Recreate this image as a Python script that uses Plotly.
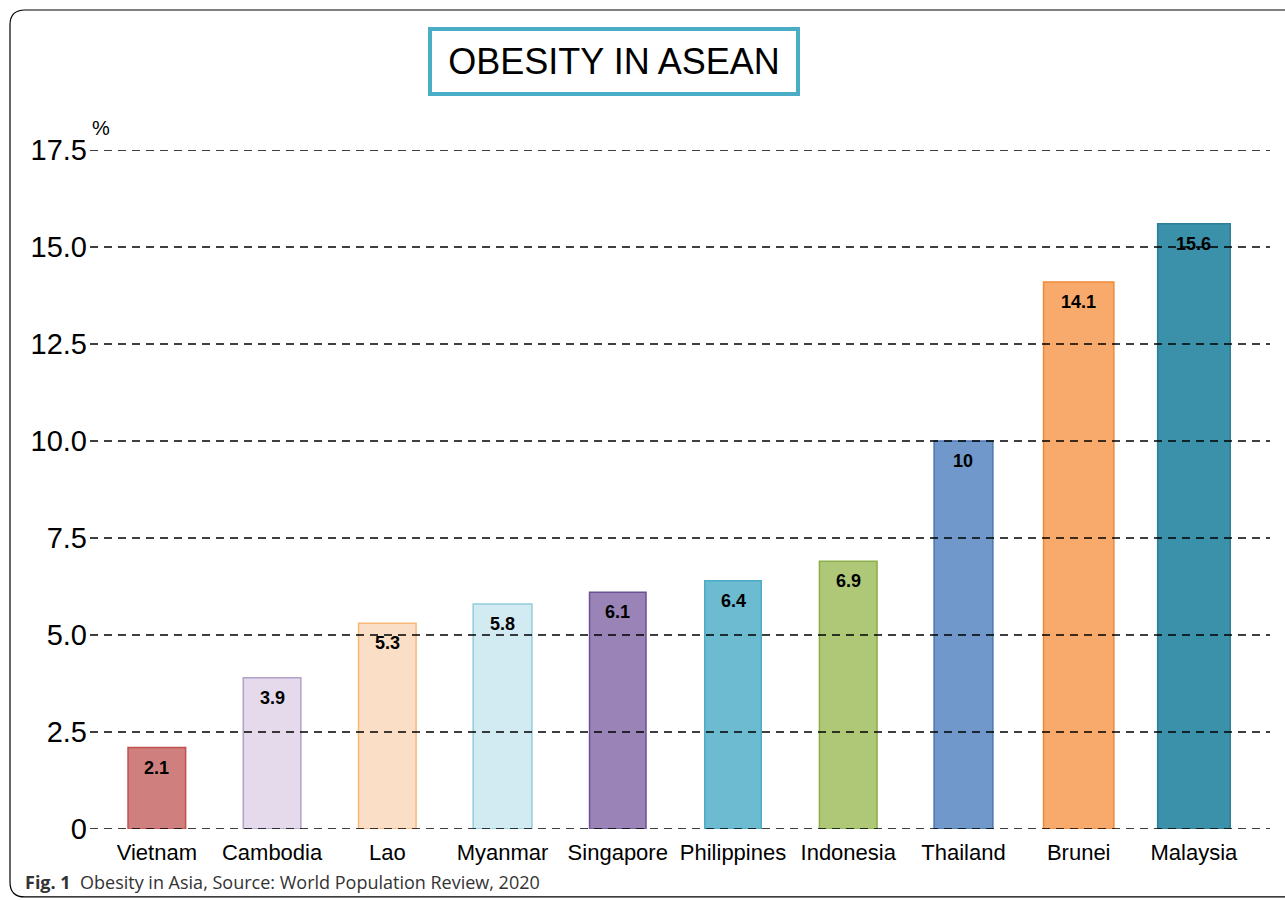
import plotly.graph_objects as go

# ---- data ----
countries = ["Vietnam", "Cambodia", "Lao", "Myanmar", "Singapore",
             "Philippines", "Indonesia", "Thailand", "Brunei", "Malaysia"]
obesity_pct = [2.1, 3.9, 5.3, 5.8, 6.1, 6.4, 6.9, 10, 14.1, 15.6]
value_labels = ["2.1", "3.9", "5.3", "5.8", "6.1", "6.4", "6.9", "10", "14.1", "15.6"]
y_ticks = [0, 2.5, 5.0, 7.5, 10.0, 12.5, 15.0, 17.5]
y_tick_labels = ["0", "2.5", "5.0", "7.5", "10.0", "12.5", "15.0", "17.5"]

# ---- styles ----
fill_colors = ["#CF7F7D", "#E4DAEC", "#FBDEC6", "#D2EAF1", "#9A83B7",
               "#6DBBD0", "#AEC878", "#7098CA", "#F7AA6C", "#3A91A9"]
line_colors = ["#C0504D", "#B3A2C7", "#F9B77A", "#92CDDC", "#6A5290",
               "#4BACC6", "#8AAF4A", "#4A76B0", "#F08A35", "#2E7F95"]
bar_widths = [0.5, 0.5, 0.5, 0.51, 0.49, 0.49, 0.5, 0.51, 0.61, 0.63]

FONT = "Liberation Sans, Arial, sans-serif"

fig = go.Figure()
fig.add_trace(go.Bar(
    x=countries, y=obesity_pct, width=bar_widths,
    marker=dict(color=fill_colors, line=dict(color=line_colors, width=1.5)),
    hoverinfo="x+y",
))

# value labels inside bar tops
for c, v, t in zip(countries, obesity_pct, value_labels):
    fig.add_annotation(x=c, y=v, text=f"<b>{t}</b>", showarrow=False,
                       yanchor="top", yshift=-8,
                       font=dict(family=FONT, size=18, color="black"))

# dashed gridlines drawn above bars
for t in y_ticks:
    fig.add_shape(type="line", xref="paper", x0=0, x1=1, yref="y", y0=t, y1=t,
                  line=dict(color="black", width=1.5, dash="8px,6px"), layer="above")

# title box
fig.add_annotation(xref="paper", yref="paper", x=0.444, y=1.131,
                   text="OBESITY IN ASEAN", showarrow=False,
                   font=dict(family=FONT, size=36, color="black"),
                   bordercolor="#4BACC6", borderwidth=4, borderpad=0,
                   width=364, height=61, xanchor="center", yanchor="middle")

# % unit
fig.add_annotation(xref="paper", yref="paper", x=0.0, y=1.032, xanchor="left",
                   yanchor="middle", text="%", showarrow=False,
                   font=dict(family=FONT, size=20, color="black"))

# caption
fig.add_annotation(xref="paper", yref="paper", x=-0.057, y=-0.078,
                   xanchor="left", yanchor="middle", showarrow=False,
                   text="<b>Fig. 1</b>  Obesity in Asia, Source: World Population Review, 2020",
                   font=dict(family="Open Sans, Noto Sans, sans-serif", size=18, color="#333333"))

# rounded outer frame (left, top, bottom edges; right is off-page)
xl, yt, yb, xr = -0.0678, 1.2062, -0.1001, 1.05
rx, ry = 0.0127, 0.0221
frame = (f"M {xr},{yb} L {xl+rx},{yb} Q {xl},{yb} {xl},{yb+ry} "
         f"L {xl},{yt-ry} Q {xl},{yt} {xl+rx},{yt} L {xr},{yt}")
fig.add_shape(type="path", xref="paper", yref="paper", path=frame,
              line=dict(color="black", width=1.2))

fig.update_layout(
    width=1285, height=900,
    margin=dict(l=90, r=15, t=150, b=71),
    paper_bgcolor="white", plot_bgcolor="white",
    showlegend=False,
    bargap=0.5,
    xaxis=dict(range=[-0.58, 9.66], showgrid=False, zeroline=False, showline=False,
               ticks="", ticklabelstandoff=8,
               tickfont=dict(family=FONT, size=22, color="black")),
    yaxis=dict(range=[0, 17.5], tickvals=y_ticks, ticktext=y_tick_labels,
               showgrid=False, zeroline=False, showline=False, ticks="",
               ticklabelstandoff=2,
               tickfont=dict(family=FONT, size=29, color="black")),
)

fig.write_html("out.html")
